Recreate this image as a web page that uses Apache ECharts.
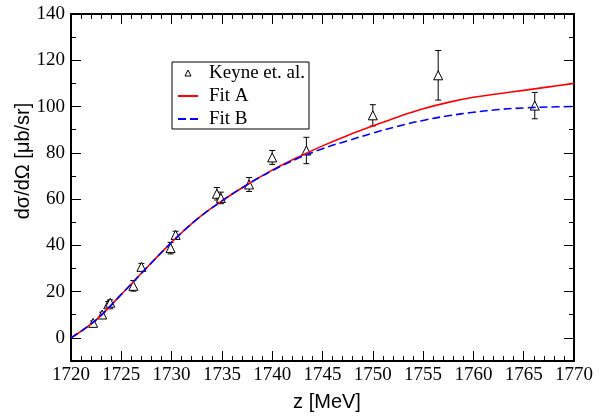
<!DOCTYPE html>
<html>
<head>
<meta charset="utf-8">
<script src="https://cdn.jsdelivr.net/npm/echarts@6/dist/echarts.min.js"></script>
<style>html,body{margin:0;padding:0;background:#fff}#c{width:603px;height:417px}</style>
</head>
<body>
<div id="c"></div>
<script>
// Data: Keyne et al. measurements
const dataX   = [1722.2, 1723.1, 1723.7, 1723.9, 1726.2, 1727.0, 1729.9, 1730.4, 1734.5, 1734.9, 1737.7, 1740.0, 1743.4, 1750.0, 1756.5, 1766.1];
const dataY   = [6.5, 10.1, 14.5, 15.2, 22.5, 30.7, 38.8, 44.5, 62.3, 60.5, 66.3, 78.0, 81.0, 96.2, 113.5, 100.4];
const dataErr = [0.8, 1.0, 1.2, 1.2, 2.3, 1.5, 2.5, 1.6, 2.7, 2.5, 3.0, 3.0, 5.7, 4.6, 10.7, 5.7];

// Fit curves
const fitX = [1720, 1722.5, 1725, 1727.5, 1730, 1732.5, 1735, 1737.5, 1740, 1742.5, 1745, 1747.5, 1750, 1752.5, 1755, 1757.5, 1760, 1762.5, 1765, 1767.5, 1770];
const fitA = [0, 7.8, 18.8, 30.2, 41.3, 51.2, 59.2, 66.2, 72.5, 78, 83, 87.5, 91.6, 95.5, 99, 101.8, 104, 105.5, 107, 108.5, 110];
const fitB = [0, 7.8, 18.8, 30.2, 41.3, 51.2, 59.2, 66.2, 72.3, 77.5, 81.8, 85.2, 88.5, 91.5, 94, 96, 97.5, 98.7, 99.4, 99.8, 100];

const yMajorTicks = [0, 20, 40, 60, 80, 100, 120, 140];

const seriesNames = ['Keyne et. al.', 'Fit A', 'Fit B'];
const xTitle = 'z [MeV]';
const yTitle = 'dσ/dΩ [μb/sr]';

const chart = echarts.init(document.getElementById('c'), null, {renderer: 'canvas'});

const serif = 'Liberation Serif';
const sans = 'Liberation Sans';

function xAx(pos, showLabel) {
  return {
    type: 'value', position: pos, min: 1720, max: 1770, interval: 5,
    axisLine: {show: true, onZero: false, lineStyle: {color: '#000', width: 2}},
    axisTick: {show: true, inside: true, length: 10, lineStyle: {color: '#000', width: 1}},
    minorTick: {show: true, splitNumber: 5, length: 5, lineStyle: {color: '#000', width: 1}},
    axisLabel: {show: showLabel, fontFamily: serif, fontSize: 19, color: '#000', margin: 5,
      formatter: function (v) { return String(v); }},
    splitLine: {show: false},
    name: showLabel ? xTitle : '',
    nameLocation: 'middle', nameGap: 31,
    nameTextStyle: {fontFamily: sans, fontSize: 20, color: '#000', padding: [0, 0, 0, 9]}
  };
}
function yMajor(pos, showLabel) {
  return {
    type: 'value', position: pos, min: -10, max: 140, interval: 10,
    axisLine: {show: true, onZero: false, lineStyle: {color: '#000', width: 2}},
    axisTick: {show: true, inside: true, length: 10, customValues: yMajorTicks, lineStyle: {color: '#000', width: 1}},
    axisLabel: {show: showLabel, customValues: yMajorTicks, fontFamily: serif, fontSize: 19, color: '#000', margin: 6,
      formatter: function (v) { return String(v); }},
    splitLine: {show: false}
  };
}
function yMinor(pos) {
  return {
    type: 'value', position: pos, min: -10, max: 140, interval: 10,
    axisLine: {show: false, onZero: false},
    axisTick: {show: true, inside: true, length: 5, lineStyle: {color: '#000', width: 1}},
    axisLabel: {show: false},
    splitLine: {show: false}
  };
}

const points = dataX.map((x, i) => [x, dataY[i]]);
const bars = dataX.map((x, i) => [x, dataY[i] - dataErr[i], dataY[i] + dataErr[i]]);

chart.setOption({
  animation: false,
  backgroundColor: '#fff',
  grid: {left: 71, right: 29, top: 14, bottom: 52, containLabel: false},
  xAxis: [xAx('bottom', true), xAx('top', false)],
  yAxis: [yMajor('left', true), yMajor('right', false), yMinor('left'), yMinor('right')],
  legend: {
    show: true, orient: 'vertical', left: 172, top: 62,
    padding: [1, 4, 0, 5], itemGap: 3, itemWidth: 20, itemHeight: 6, symbolKeepAspect: true,
    borderColor: '#000', borderWidth: 1, backgroundColor: '#fff',
    textStyle: {fontFamily: serif, fontSize: 19, color: '#000', lineHeight: 20, padding: [0, 0, 0, 6]},
    data: [
      {name: seriesNames[0], icon: 'path://M3,0 L6,6 L0,6 Z', itemStyle: {color: '#fff', borderColor: '#000', borderWidth: 1}},
      {name: seriesNames[1], itemStyle: {opacity: 0}},
      {name: seriesNames[2], itemStyle: {opacity: 0}}
    ]
  },
  graphic: [{
    type: 'text', x: 23, y: 161, rotation: Math.PI / 2,
    style: {text: yTitle, fontFamily: sans, fontSize: 20, fill: '#000', textAlign: 'center', textVerticalAlign: 'middle'}
  }],
  series: [
    {
      type: 'custom', name: 'errbars', xAxisIndex: 0, yAxisIndex: 0, z: 3,
      renderItem: function (params, api) {
        const x = api.value(0);
        const lo = api.coord([x, api.value(1)]);
        const hi = api.coord([x, api.value(2)]);
        const cw = 3;
        const st = {stroke: '#000', lineWidth: 1};
        return {type: 'group', children: [
          {type: 'line', shape: {x1: lo[0], y1: lo[1], x2: hi[0], y2: hi[1]}, style: st},
          {type: 'line', shape: {x1: lo[0] - cw, y1: lo[1], x2: lo[0] + cw, y2: lo[1]}, style: st},
          {type: 'line', shape: {x1: hi[0] - cw, y1: hi[1], x2: hi[0] + cw, y2: hi[1]}, style: st}
        ]};
      },
      encode: {x: 0, y: [1, 2]},
      data: bars, silent: true
    },
    {
      type: 'scatter', name: seriesNames[0], xAxisIndex: 0, yAxisIndex: 0, z: 4,
      symbol: 'triangle', symbolSize: 9,
      itemStyle: {color: '#fff', borderColor: '#000', borderWidth: 1, opacity: 1},
      data: points
    },
    {
      type: 'line', name: seriesNames[1], xAxisIndex: 0, yAxisIndex: 0, z: 5,
      showSymbol: false, symbol: 'none', smooth: 0.4,
      lineStyle: {color: '#ff0000', width: 1.6},
      itemStyle: {color: '#ff0000'},
      data: fitX.map((x, i) => [x, fitA[i]])
    },
    {
      type: 'line', name: seriesNames[2], xAxisIndex: 0, yAxisIndex: 0, z: 6,
      showSymbol: false, symbol: 'none', smooth: 0.4,
      lineStyle: {color: '#0000ff', width: 1.6, type: [8, 4]},
      itemStyle: {color: '#0000ff'},
      data: fitX.map((x, i) => [x, fitB[i]])
    }
  ]
});
</script>
</body>
</html>
